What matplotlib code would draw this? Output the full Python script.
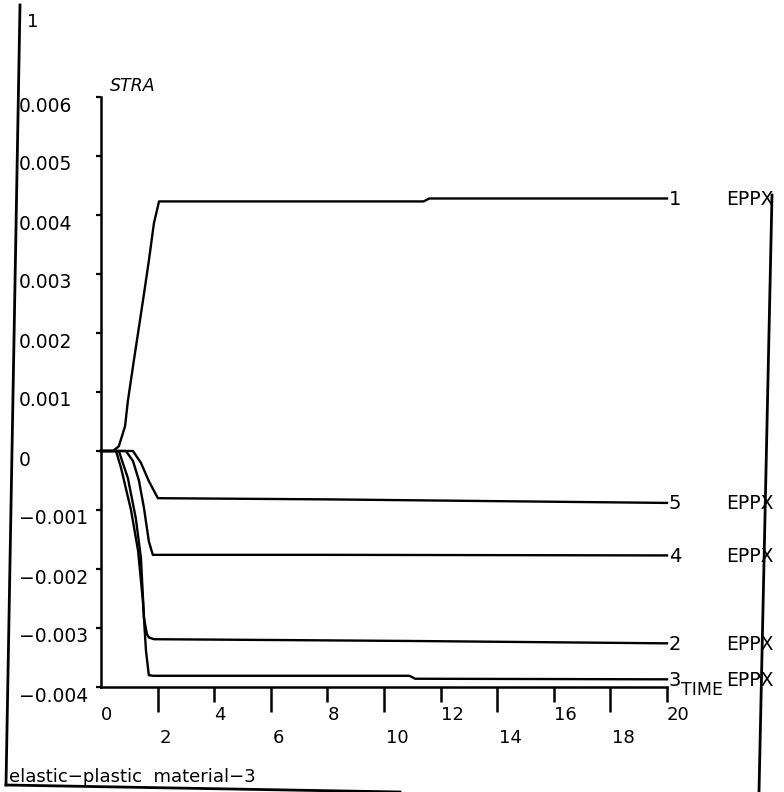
import matplotlib.pyplot as plt
from matplotlib.lines import Line2D

# curves (time, strain EPPX)
time_1 = [0, 0.42, 0.63, 0.85, 0.95, 1.16, 1.48, 1.69, 1.87, 2.05, 11.4, 11.6, 20]
stra_1 = [0, 0, 0.00008, 0.00042, 0.00085, 0.00153, 0.00254, 0.00322, 0.00386, 0.00423,
          0.00423, 0.00428, 0.00428]

time_2 = [0, 0.63, 0.95, 1.23, 1.41, 1.52, 1.62, 1.69, 1.87, 5, 11, 20]
stra_2 = [0, 0, -0.00046, -0.00114, -0.00181, -0.00283, -0.0031, -0.00316, -0.00319,
          -0.0032, -0.00322, -0.00326]

time_3 = [0, 0.53, 0.71, 1.06, 1.31, 1.48, 1.59, 1.69, 1.85, 5, 10.9, 11.1, 20]
stra_3 = [0, 0, -0.00029, -0.001, -0.00169, -0.00254, -0.00339, -0.0038, -0.00381,
          -0.00381, -0.00381, -0.00386, -0.00387]

time_4 = [0, 0.88, 1.13, 1.34, 1.52, 1.69, 1.83, 8, 20]
stra_4 = [0, 0, -0.00017, -0.0005, -0.00097, -0.00153, -0.00176, -0.00176, -0.00177]

time_5 = [0, 1.13, 1.41, 1.69, 2.01, 8, 14, 20]
stra_5 = [0, 0, -0.0002, -0.00051, -0.0008, -0.00082, -0.00085, -0.00088]

curve_ids = ['1', '2', '3', '4', '5']
curve_name = 'EPPX'

x_ticks_upper = [0, 4, 8, 12, 16, 20]
x_ticks_lower = [2, 6, 10, 14, 18]
y_ticks = [-0.004, -0.003, -0.002, -0.001, 0, 0.001, 0.002, 0.003, 0.004, 0.005, 0.006]
y_tick_labels = ['\u22120.004', '\u22120.003', '\u22120.002', '\u22120.001', '0',
                 '0.001', '0.002', '0.003', '0.004', '0.005', '0.006']

W, H = 784, 792
fig = plt.figure(figsize=(W / 100, H / 100), dpi=100)
ax = fig.add_axes([101 / W, 1 - 687 / H, 566 / W, 590 / H])
ax.set_xlim(0, 20)
ax.set_ylim(-0.004, 0.006)

for s in ['top', 'right']:
    ax.spines[s].set_visible(False)
for s in ['left', 'bottom']:
    ax.spines[s].set_linewidth(1.8)

pt = 0.72  # pixels -> points at 100 dpi

# x ticks: long ones under the lower label row, short ones under the upper row
ax.set_xticks(x_ticks_lower)
ax.set_xticks(x_ticks_upper[1:], minor=True)
ax.tick_params(axis='x', which='major', direction='out', length=25 * pt, width=1.8,
               labelbottom=False)
ax.tick_params(axis='x', which='minor', direction='out', length=15 * pt, width=1.8,
               labelbottom=False)
ax.set_yticks(y_ticks)
ax.tick_params(axis='y', direction='out', length=5 * pt, width=1.6, labelleft=False)

for v in x_ticks_upper:
    ax.annotate(str(v), xy=(v, 0), xycoords=('data', 'axes fraction'),
                xytext=(0, -28 * pt), textcoords='offset points',
                ha='left', va='center', fontsize=13)
for v in x_ticks_lower:
    ax.annotate(str(v), xy=(v, 0), xycoords=('data', 'axes fraction'),
                xytext=(2 * pt, -51 * pt), textcoords='offset points',
                ha='left', va='center', fontsize=13)
for v, lab in zip(y_ticks, y_tick_labels):
    ax.annotate(lab, xy=(0, v), xycoords=('axes fraction', 'data'),
                xytext=(-82 * pt, -9 * pt), textcoords='offset points',
                ha='left', va='center', fontsize=13.5)

ax.annotate('STRA', xy=(0, 1), xycoords='axes fraction',
            xytext=(9 * pt, 11 * pt), textcoords='offset points',
            ha='left', va='center', fontsize=12.5, style='italic')
ax.annotate('TIME', xy=(1, 0), xycoords='axes fraction',
            xytext=(14 * pt, -3 * pt), textcoords='offset points',
            ha='left', va='center', fontsize=12.5)

curves = [(time_1, stra_1), (time_2, stra_2), (time_3, stra_3),
          (time_4, stra_4), (time_5, stra_5)]
for cid, (t, s) in zip(curve_ids, curves):
    ax.plot(t, s, color='black', lw=1.7, clip_on=False)
    ax.annotate(cid, xy=(t[-1], s[-1]), xytext=(2 * pt, -1 * pt),
                textcoords='offset points', ha='left', va='center', fontsize=14)
    ax.annotate(curve_name, xy=(t[-1], s[-1]), xytext=(59 * pt, -1 * pt),
                textcoords='offset points', ha='left', va='center', fontsize=13.5)

# frame of the plotter sheet (scan is slightly rotated)
def px_line(x0, y0, x1, y1, lw=2.0):
    fig.add_artist(Line2D([x0 / W, x1 / W], [1 - y0 / H, 1 - y1 / H],
                          transform=fig.transFigure, color='black', lw=lw))

px_line(20, 5, 6, 785)
px_line(6, 785, 400, 792)
px_line(772, 195, 759, 792)

fig.text(33 / W, 1 - 22 / H, '1', ha='center', va='center', fontsize=13)
fig.text(9 / W, 1 - 782 / H, 'elastic\u2212plastic  material\u22123', ha='left',
         va='baseline', fontsize=13)

fig.savefig('out.png', dpi=100)
